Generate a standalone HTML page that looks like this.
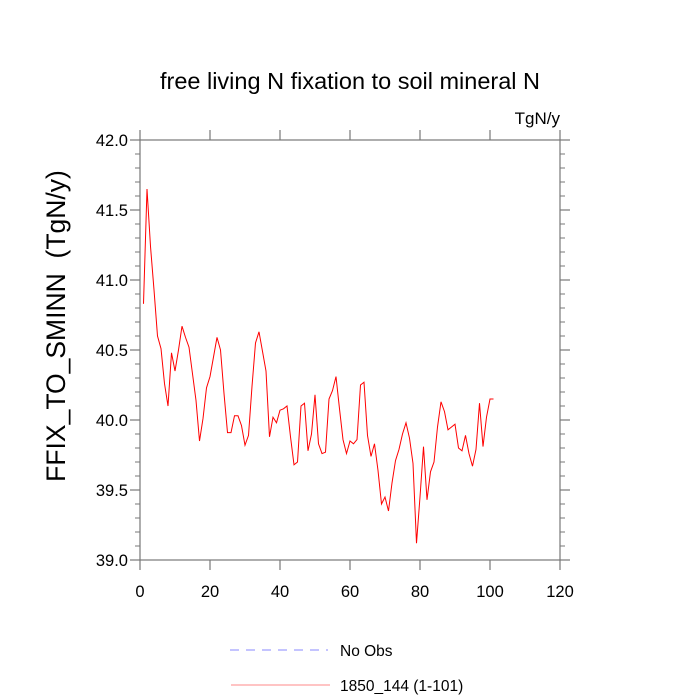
<!DOCTYPE html>
<html><head><meta charset="utf-8"><style>body{margin:0;background:#fff}svg{display:block;font-family:"Liberation Sans",sans-serif}</style></head>
<body>
<svg id="chart" width="700" height="700" viewBox="0 0 700 700">
<rect width="700" height="700" fill="#fff"/>
<text x="350" y="89" text-anchor="middle" font-size="23.5">free living N fixation to soil mineral N</text>
<text x="560" y="124" text-anchor="end" font-size="17">TgN/y</text>
<text transform="translate(65,326) rotate(-90)" text-anchor="middle" font-size="26.5" style="white-space:pre" xml:space="preserve">FFIX_TO_SMINN  (TgN/y)</text>
<g id="axes"></g>
<polyline id="series" fill="none" stroke="#ff0000" stroke-width="1"/>
<line x1="230" y1="650" x2="328" y2="650" stroke="#8888ff" stroke-dasharray="9,7"/>
<text x="340" y="656" font-size="15.5">No Obs</text>
<line x1="231" y1="685" x2="330" y2="685" stroke="#ff8888"/>
<text x="340" y="691" font-size="15.5">1850_144 (1-101)</text>
</svg>
<script>
const xTicks=[0,20,40,60,80,100,120];
const yTicks=[39.0,39.5,40.0,40.5,41.0,41.5,42.0];
const yTickLabels=["39.0","39.5","40.0","40.5","41.0","41.5","42.0"];
const values=[40.83,41.65,41.24,40.93,40.60,40.51,40.26,40.10,40.48,40.35,40.50,40.67,40.59,40.52,40.33,40.14,39.85,40.01,40.23,40.31,40.45,40.59,40.50,40.19,39.91,39.91,40.03,40.03,39.96,39.82,39.89,40.24,40.55,40.63,40.49,40.35,39.88,40.02,39.98,40.07,40.08,40.10,39.88,39.68,39.70,40.10,40.12,39.78,39.90,40.18,39.83,39.76,39.77,40.15,40.21,40.31,40.08,39.86,39.76,39.85,39.83,39.86,40.25,40.27,39.89,39.74,39.83,39.64,39.40,39.45,39.35,39.55,39.71,39.79,39.90,39.98,39.87,39.69,39.12,39.45,39.81,39.43,39.63,39.70,39.95,40.13,40.06,39.93,39.95,39.97,39.80,39.78,39.89,39.76,39.67,39.79,40.12,39.81,40.02,40.15,40.15];
const X0=140,X1=560,Y0=560,Y1=140;
const xs=v=>X0+(v-0)/(120-0)*(X1-X0);
const ys=v=>Y0-(v-39)/(42-39)*(Y0-Y1);
const NS="http://www.w3.org/2000/svg";
const axes=document.getElementById('axes');
function mk(tag,a){const e=document.createElementNS(NS,tag);for(const k in a)e.setAttribute(k,a[k]);axes.appendChild(e);return e;}
const frame=mk('rect',{x:X0,y:Y1,width:X1-X0,height:Y0-Y1,fill:'none',stroke:'#777','stroke-width':1.2});


xTicks.forEach(t=>{const x=xs(t);
 const a=mk('line',{x1:x,y1:Y0,x2:x,y2:Y0+10,stroke:'#777','stroke-width':1.2});
 
 
 const b=mk('line',{x1:x,y1:Y1,x2:x,y2:Y1-10,stroke:'#777','stroke-width':1.2});
 
 
 const l=mk('text',{x:x,y:Y0+37,'text-anchor':'middle','font-size':16.5});l.textContent=String(t);
 
 
});
for(let k=0;k<=30;k++){const v=39+k*0.1;const y=ys(v);const major=k%5===0;const len=major?10:5;
 const a=mk('line',{x1:X0-len,y1:y,x2:X0,y2:y,stroke:'#777','stroke-width':major?1.2:1});
 
 
 const b=mk('line',{x1:X1,y1:y,x2:X1+len,y2:y,stroke:'#777','stroke-width':major?1.2:1});
 
 
}
yTicks.forEach((t,i)=>{const l=mk('text',{x:X0-12,y:ys(t)+6,'text-anchor':'end','font-size':16.5});l.textContent=yTickLabels[i];
 
 
});
document.getElementById('series').setAttribute('points',values.map((v,i)=>xs(i+1).toFixed(1)+','+ys(v).toFixed(1)).join(' '));
</script>
</body></html>
